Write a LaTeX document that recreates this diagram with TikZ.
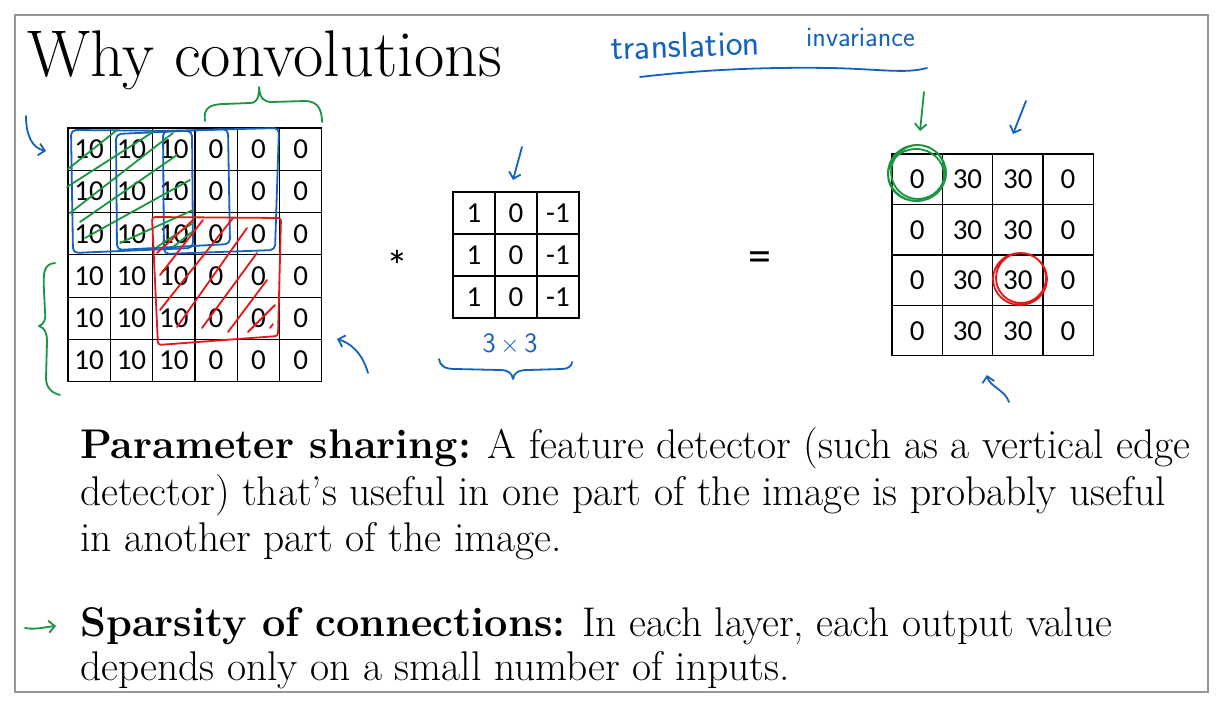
\documentclass[tikz,border=0pt]{standalone}
\usepackage{fontspec}
\newfontfamily\cellfont{Carlito}
\usetikzlibrary{arrows.meta}

\definecolor{penblue}{RGB}{18,98,190}
\definecolor{pengreen}{RGB}{24,150,64}
\definecolor{penred}{RGB}{232,22,22}
\definecolor{framegray}{RGB}{150,150,150}

\begin{document}
\begin{tikzpicture}[
  x=1pt, y=-1pt,
  cell/.style={draw, line width=1.2pt, inner sep=0pt, font=\cellfont\fontsize{29}{33}\selectfont},
  incell/.style={cell, minimum size=42.3pt},
  kcell/.style={cell, minimum size=42pt},
  outcell/.style={cell, minimum size=50.3pt},
  pen/.style={line width=1.8pt, line cap=round, line join=round},
  >={Straight Barb[length=6pt,width=12pt]},
  bodyline/.style={anchor=base west, inner sep=0pt, font=\fontsize{41.5}{48}\selectfont},
  handtext/.style={anchor=base west, inner sep=0pt, text=penblue, font=\sffamily}
]
\useasboundingbox (0,0) rectangle (1224,708);
\fill[white] (0,0) rectangle (1224,708);
\draw[framegray, line width=2.5pt] (15,15) rectangle (1208,692);

\node[anchor=base west, inner sep=0pt, font=\fontsize{66}{78}\selectfont] (title) at (27,77) {Why convolutions};

% input image 6x6
\foreach \r in {1,...,6}
  \foreach \c/\v in {1/10,2/10,3/10,4/0,5/0,6/0}
    \node[incell] (in-\r-\c) at ({68+(\c-0.5)*42.3},{128+(\r-0.5)*42.3}) {\v};

% filter 3x3
\foreach \r in {1,2,3}
  \foreach \c/\v in {1/1,2/0,3/-1}
    \node[kcell] (k-\r-\c) at ({453+(\c-0.5)*42},{192+(\r-0.5)*42}) {\v};

% output 4x4
\foreach \r in {1,...,4}
  \foreach \c/\v in {1/0,2/30,3/30,4/0}
    \node[outcell] (out-\r-\c) at ({892+(\c-0.5)*50.3},{154+(\r-0.5)*50.5}) {\v};

\node[font=\cellfont\fontsize{44}{48}\selectfont] (star) at (397,266) {*};
\node[font=\cellfont\fontsize{46}{50}\selectfont] (eq) at (760,262) {=};

% text
\node[bodyline] (ps-1) at (80,458) {\textbf{Parameter sharing:} A feature detector (such as a vertical edge};
\node[bodyline] (ps-2) at (80,505) {detector) that's useful in one part of the image is probably useful};
\node[bodyline] (ps-3) at (80,551) {in another part of the image.};
\node[bodyline] (sc-1) at (80,636) {\textbf{Sparsity of connections:} In each layer, each output value};
\node[bodyline] (sc-2) at (80,680) {depends only on a small number of inputs.};

% pen notes
\node[handtext, font=\sffamily\fontsize{36}{40}\selectfont, rotate=2] (hw-trans) at (611,60) {translation};
\node[handtext, font=\sffamily\fontsize{28}{32}\selectfont] (hw-inv) at (806,47) {invariance};
\draw[pen, penblue] (640,77) .. controls (700,70) and (760,67) .. (830,68) .. controls (880,69) and (905,74) .. (927,68);
\node[text=penblue, font=\sffamily\fontsize{28}{32}\selectfont] (hw-size) at (510,344) {3\,$\times$\,3};
\draw[pen, penblue] (439,359) .. controls (440,366) and (445,369) .. (455,369) -- (500,370)
  .. controls (508,370) and (512,373) .. (513,379) .. controls (514,373) and (518,370) .. (528,370)
  -- (562,369) .. controls (568,369) and (572,366) .. (572,362);

\draw[pen, penblue, rounded corners=5pt] (71,130) -- (192,131) -- (193,248) -- (73,253) -- cycle;
\draw[pen, penblue, rounded corners=5pt] (116,134) -- (228,129) -- (230,244) -- (117,250) -- cycle;
\draw[pen, penblue, rounded corners=5pt] (163,131) -- (279,128) -- (275,250) -- (164,254) -- cycle;

\draw[pen, pengreen] (68,169) -- (117,130) (67,187) -- (153,132) (70,213) -- (173,133)
  (80,222) -- (177,155) (85,238) -- (190,180) (120,243) -- (193,210)
  (157,247) -- (193,223) (173,247) -- (192,232);

\draw[pen, penred, rounded corners=3pt] (152,217) -- (281,218) -- (278,336) -- (158,345) -- cycle;
\draw[pen, penred] (157,253) -- (193,220) (160,275) -- (203,220) (160,310) -- (233,218)
  (177,327) -- (247,228) (202,328) -- (257,253) (228,332) -- (267,280)
  (248,332) -- (275,305) (270,328) -- (273,324);

\draw[pen, pengreen] (205,121) .. controls (203,108) and (210,104) .. (225,104) -- (250,103)
  .. controls (257,103) and (259,98) .. (259,87) .. controls (260,98) and (263,102) .. (272,102)
  -- (305,101) .. controls (318,101) and (322,110) .. (322,122);
\draw[pen, pengreen] (55,263) .. controls (44,264) and (43,272) .. (44,290) -- (45,312)
  .. controls (46,320) and (44,324) .. (39,326) .. controls (45,328) and (47,333) .. (47,342)
  -- (46,378) .. controls (46,388) and (52,393) .. (60,395);

\draw[pen, pengreen] (917,173) circle[x radius=29pt, y radius=28pt]
  (918,172) circle[x radius=27pt, y radius=27pt] (916,175) circle[x radius=28pt, y radius=26pt];
\draw[pen, penred] (1020,279) circle[x radius=27pt, y radius=26pt]
  (1021,278) circle[x radius=25pt, y radius=25pt];

\draw[pen, penblue, ->] (26,116) .. controls (26,135) and (32,148) .. (46,151);
\draw[pen, penblue, ->] (368,373) .. controls (362,352) and (350,343) .. (337,339);
\draw[pen, penblue, ->] (522,147) -- (513,180);
\draw[pen, pengreen, ->] (924,92) -- (920,131);
\draw[pen, penblue, ->] (1026,101) -- (1013,134);
\draw[pen, penblue, ->] (1009,402) .. controls (1005,390) and (989,386) .. (987,375);
\draw[pen, pengreen, ->] (25,628) .. controls (35,630) and (45,627) .. (56,626);
\end{tikzpicture}
\end{document}
